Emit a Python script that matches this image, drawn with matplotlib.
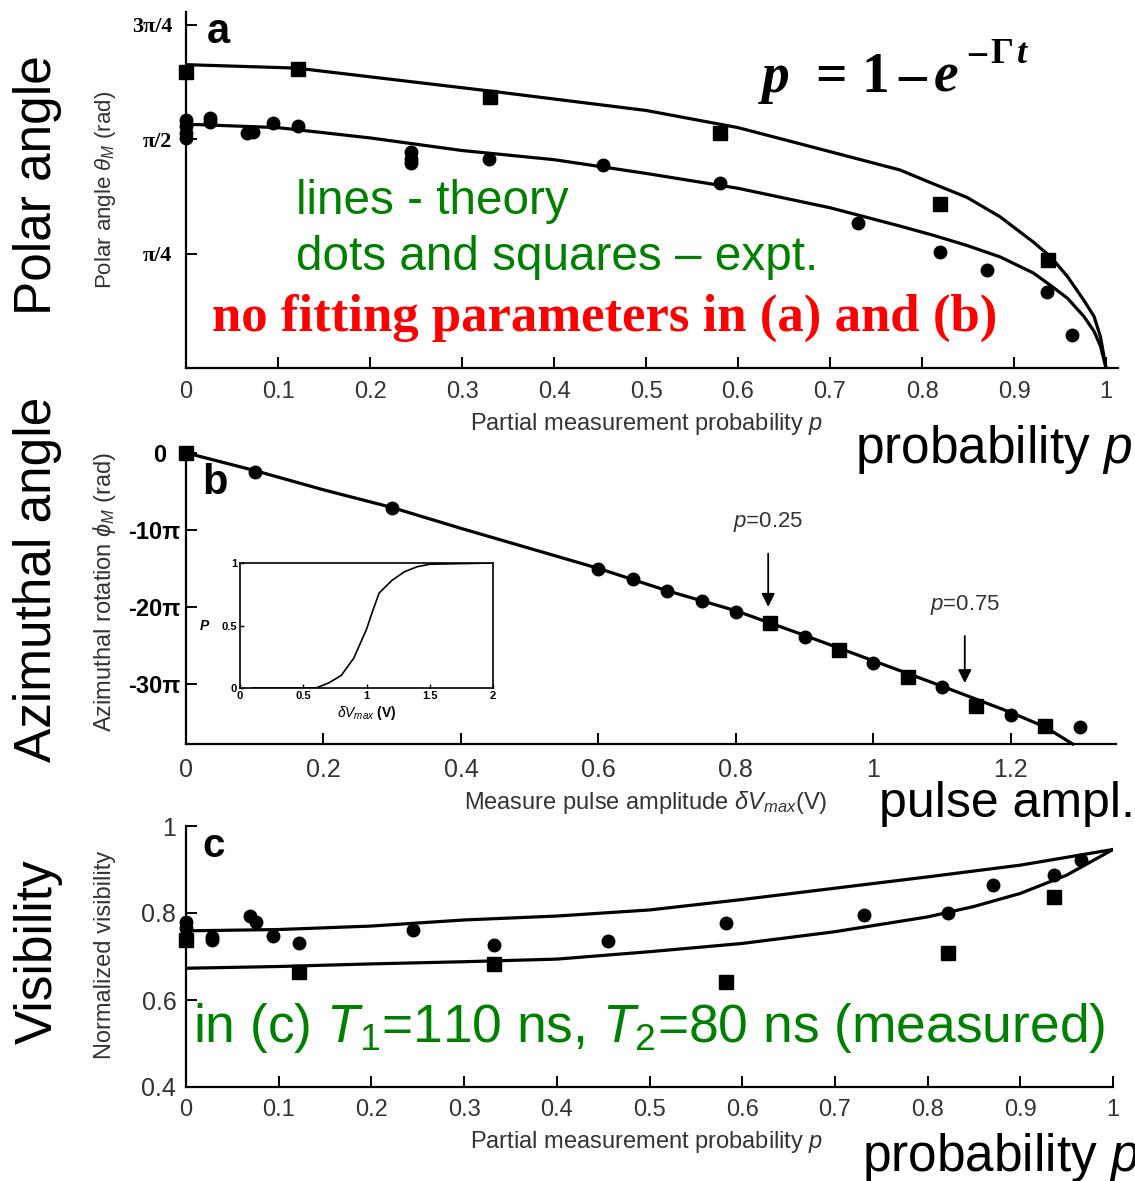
import numpy as np
from matplotlib import pyplot as plt

plt.rcParams['font.family'] = ['Liberation Sans', 'DejaVu Sans']
plt.rcParams['mathtext.fontset'] = 'custom'
plt.rcParams['mathtext.rm'] = 'Liberation Sans'
plt.rcParams['mathtext.it'] = 'Liberation Sans:italic'
plt.rcParams['mathtext.bf'] = 'Liberation Sans:bold'

# ---- panel a : polar angle (units of pi/4) ----
a_sq_p = [0, 0.122, 0.33, 0.58, 0.82, 0.937]
a_sq_v = [2.59, 2.61, 2.37, 2.05, 1.43, 0.94]
a_dot_p = [0, 0, 0, 0, 0.026, 0.026, 0.066, 0.073, 0.095, 0.122, 0.245, 0.245,
           0.245, 0.329, 0.453, 0.58, 0.73, 0.82, 0.871, 0.936, 0.963]
a_dot_v = [2.17, 2.11, 2.05, 2.01, 2.18, 2.15, 2.05, 2.06, 2.14, 2.11, 1.89, 1.83,
           1.79, 1.83, 1.77, 1.62, 1.27, 1.01, 0.86, 0.66, 0.29]
a_up_p = [0, 0.12, 0.33, 0.5, 0.6, 0.7, 0.776, 0.812, 0.849, 0.885, 0.921, 0.94,
          0.958, 0.976, 0.987, 0.994, 1.0]
a_up_v = [2.65, 2.62, 2.42, 2.25, 2.10, 1.89, 1.73, 1.61, 1.49, 1.32, 1.10, 0.97,
          0.80, 0.59, 0.45, 0.27, 0]
a_lo_p = [0, 0.1, 0.2, 0.3, 0.4, 0.5, 0.6, 0.7, 0.776, 0.812, 0.849, 0.885, 0.921,
          0.94, 0.958, 0.976, 0.987, 0.994, 1.0]
a_lo_v = [2.13, 2.10, 2.01, 1.90, 1.82, 1.70, 1.57, 1.40, 1.24, 1.16, 1.07, 0.97, 0.83,
          0.72, 0.61, 0.45, 0.32, 0.19, 0]
a_yticks = [1, 2, 3]
a_ylabels = ['\u03c0/4', '\u03c0/2', '3\u03c0/4']

# ---- panel b : azimuthal rotation (units of pi) ----
b_dot_v = [0.1, 0.3, 0.6, 0.65, 0.7, 0.75, 0.8, 0.9, 1.0, 1.1, 1.2, 1.3]
b_dot_phi = [-2.5, -7.1, -15.1, -16.4, -18.0, -19.2, -20.6, -23.9, -27.3, -30.4, -34.0, -35.6]
b_sq_v = [0, 0.85, 0.95, 1.05, 1.15, 1.25]
b_sq_phi = [0, -22.1, -25.6, -29.1, -32.9, -35.5]
b_th_v = [0, 0.1, 0.2, 0.3, 0.4, 0.5, 0.6, 0.7, 0.8, 0.9, 1.0, 1.1, 1.2, 1.25, 1.29]
b_th_phi = [0, -2.3, -4.8, -7.1, -9.8, -12.4, -15.0, -17.9, -20.5, -23.7, -27.0,
            -30.3, -33.7, -35.6, -37.8]
b_yticks = [0, -10, -20, -30]
b_ylabels = ['0  ', '-10\u03c0', '-20\u03c0', '-30\u03c0']
b_xticks = [0, 0.2, 0.4, 0.6, 0.8, 1.0, 1.2]
b_xlabels = ['0', '0.2', '0.4', '0.6', '0.8', '1', '1.2']

# inset
in_v = [0.1, 0.6, 0.7, 0.8, 0.9, 1.0, 1.05, 1.1, 1.2, 1.3, 1.4, 1.5, 2.0]
in_P = [0, 0, 0.04, 0.10, 0.24, 0.47, 0.62, 0.76, 0.86, 0.93, 0.97, 0.99, 1.0]

# ---- panel c : visibility ----
c_dot_p = [0, 0, 0.028, 0.028, 0.069, 0.076, 0.094, 0.122, 0.245, 0.332, 0.455,
           0.582, 0.731, 0.822, 0.871, 0.936, 0.965]
c_dot_v = [0.78, 0.765, 0.745, 0.738, 0.793, 0.78, 0.746, 0.730, 0.761, 0.726, 0.736,
           0.776, 0.795, 0.80, 0.864, 0.887, 0.922]
c_sq_p = [0, 0.122, 0.332, 0.582, 0.822, 0.936]
c_sq_v = [0.738, 0.665, 0.683, 0.642, 0.709, 0.837]
c_up_p = [0, 0.1, 0.2, 0.3, 0.4, 0.5, 0.6, 0.7, 0.8, 0.9, 1.0]
c_up_v = [0.759, 0.762, 0.770, 0.784, 0.793, 0.807, 0.831, 0.857, 0.883, 0.910, 0.946]
c_lo_p = [0, 0.1, 0.2, 0.3, 0.4, 0.5, 0.6, 0.7, 0.8, 0.85, 0.9, 0.95, 1.0]
c_lo_v = [0.673, 0.677, 0.683, 0.688, 0.694, 0.711, 0.730, 0.757, 0.791, 0.815,
          0.845, 0.887, 0.946]
c_yticks = [0.4, 0.6, 0.8, 1.0]
c_ylabels = ['0.4', '0.6', '0.8', '1']

p_ticks = [0, 0.1, 0.2, 0.3, 0.4, 0.5, 0.6, 0.7, 0.8, 0.9, 1.0]
p_labels = ['0', '0.1', '0.2', '0.3', '0.4', '0.5', '0.6', '0.7', '0.8', '0.9', '1']

W, H = 1135, 1181
fig = plt.figure(figsize=(W / 100, H / 100), dpi=100)


def px(x, y):
    return x / W, 1 - y / H


def box(x0, y_top, x1, y_bot):
    return [x0 / W, 1 - y_bot / H, (x1 - x0) / W, (y_bot - y_top) / H]


GREY = '#333333'


def style(ax):
    for s in ['top', 'right']:
        ax.spines[s].set_visible(False)
    for s in ['left', 'bottom']:
        ax.spines[s].set_linewidth(1.6)
    ax.tick_params(direction='in', length=8, width=1.4, colors='k', labelcolor=GREY)


LW = 2.3
MS_SQ = 10
MS_DOT = 9

# ---------- a ----------
ax = fig.add_axes(box(186, 12, 1118, 368))
style(ax)
ax.plot(a_up_p, a_up_v, 'k-', lw=LW)
ax.plot(a_lo_p, a_lo_v, 'k-', lw=LW)
ax.plot(a_sq_p, a_sq_v, 'ks', ms=MS_SQ, clip_on=False)
ax.plot(a_dot_p, a_dot_v, 'ko', ms=MS_DOT, clip_on=False)
ax.set_xlim(0, 1.013)
ax.set_ylim(0, 3.11)
ax.set_xticks(p_ticks)
ax.set_xticklabels(p_labels, fontsize=17)
ax.set_yticks(a_yticks)
ax.set_yticklabels(a_ylabels, fontsize=16, fontweight='bold', family='Liberation Serif',
                   color='k')
ax.tick_params(axis='x', pad=9)
ax.tick_params(axis='y', pad=10)

# ---------- b ----------
bx = fig.add_axes(box(186, 449, 1116, 744))
style(bx)
bx.plot(b_th_v, b_th_phi, 'k-', lw=LW, clip_on=False)
bx.plot(b_sq_v, b_sq_phi, 'ks', ms=MS_SQ, clip_on=False)
bx.plot(b_dot_v, b_dot_phi, 'ko', ms=MS_DOT, clip_on=False)
bx.set_xlim(0, 1.353)
bx.set_ylim(-37.8, 0.5)
bx.set_xticks(b_xticks)
bx.set_xticklabels(b_xlabels, fontsize=18)
bx.set_yticks(b_yticks)
bx.set_yticklabels(b_ylabels, fontsize=17, fontweight='bold', color='k')
bx.tick_params(axis='x', pad=10)
bx.tick_params(axis='y', pad=4)
bx.annotate(r'$p$=0.25', xy=(0.847, -20.0), xytext=(0.847, -9.0), ha='center', va='center',
            fontsize=16, color=GREY,
            arrowprops=dict(arrowstyle='-|>', color='k', lw=1.3, shrinkA=12, shrinkB=0,
                            mutation_scale=20))
bx.annotate(r'$p$=0.75', xy=(1.133, -29.9), xytext=(1.133, -19.7), ha='center', va='center',
            fontsize=16, color=GREY,
            arrowprops=dict(arrowstyle='-|>', color='k', lw=1.3, shrinkA=12, shrinkB=0,
                            mutation_scale=20))

# inset
ix = fig.add_axes(box(240, 563, 493, 688))
ix.plot(in_v, in_P, 'k-', lw=1.2)
ix.set_xlim(0, 2)
ix.set_ylim(0, 1)
ix.set_xticks([0, 0.5, 1, 1.5, 2])
ix.set_xticklabels(['0', '0.5', '1', '1.5', '2'], fontsize=8, fontweight='bold')
ix.set_yticks([0, 0.5, 1])
ix.set_yticklabels(['0', '0.5', '1'], fontsize=8, fontweight='bold')
ix.tick_params(direction='in', length=3, width=1, pad=2)
for s in ix.spines.values():
    s.set_linewidth(1.2)
ix.set_xlabel(r'$\delta V_{max}$ (V)', fontsize=10, fontweight='bold', labelpad=2)
ix.text(-0.14, 0.5, 'P', transform=ix.transAxes, fontsize=10, fontweight='bold',
        fontstyle='italic', ha='center', va='center')

# ---------- c ----------
cx = fig.add_axes(box(186, 826, 1113, 1087))
style(cx)
cx.plot(c_up_p, c_up_v, 'k-', lw=LW)
cx.plot(c_lo_p, c_lo_v, 'k-', lw=LW)
cx.plot(c_sq_p, c_sq_v, 'ks', ms=MS_SQ, clip_on=False)
cx.plot(c_dot_p, c_dot_v, 'ko', ms=MS_DOT, clip_on=False)
cx.set_xlim(0, 1)
cx.set_ylim(0.4, 1.0)
cx.set_xticks(p_ticks)
cx.set_xticklabels(p_labels, fontsize=17)
cx.set_yticks(c_yticks)
cx.set_yticklabels(c_ylabels, fontsize=18)
cx.tick_params(axis='x', pad=9)
cx.tick_params(axis='y', pad=7)

# ---------- small axis labels ----------
fig.text(*px(105, 190), r'Polar angle $\theta_M$ (rad)', rotation=90, ha='center', va='center',
         fontsize=16, color=GREY)
fig.text(*px(105, 592), r'Azimuthal rotation $\phi_M$ (rad)', rotation=90, ha='center',
         va='center', fontsize=17, color=GREY)
fig.text(*px(105, 955), 'Normalized visibility', rotation=90, ha='center', va='center',
         fontsize=17, color=GREY)
fig.text(*px(647, 424), r'Partial measurement probability $p$', ha='center', va='center',
         fontsize=17, color=GREY)
fig.text(*px(646, 802), r'Measure pulse amplitude $\delta V_{max}$(V)', ha='center',
         va='center', fontsize=17, color=GREY)
fig.text(*px(647, 1142), r'Partial measurement probability $p$', ha='center', va='center',
         fontsize=17, color=GREY)

# panel letters
fig.text(*px(218, 32), 'a', ha='center', va='center', fontsize=30, fontweight='bold')
fig.text(*px(215, 483), 'b', ha='center', va='center', fontsize=30, fontweight='bold')
fig.text(*px(214, 846), 'c', ha='center', va='center', fontsize=29, fontweight='bold')

# big labels
fig.text(*px(38, 185), 'Polar angle', rotation=90, ha='center', va='center', fontsize=37)
fig.text(*px(38, 579), 'Azimuthal angle', rotation=90, ha='center', va='center', fontsize=37)
fig.text(*px(38, 952), 'Visibility', rotation=90, ha='center', va='center', fontsize=37)
fig.text(*px(1132, 450), r'probability $p$', ha='right', va='center', fontsize=37)
fig.text(*px(1135, 804), 'pulse ampl.', ha='right', va='center', fontsize=36)
fig.text(*px(862, 1158), r'probability $p$', ha='left', va='center', fontsize=37)

# notes
GREEN = '#008000'
fig.text(*px(296, 202), 'lines - theory', ha='left', va='center', fontsize=34.3, color=GREEN)
fig.text(*px(296, 258), 'dots and squares \u2013 expt.', ha='left', va='center',
         fontsize=34.3, color=GREEN)
fig.text(*px(605, 318), 'no fitting parameters in (a) and (b)', ha='center', va='center',
         fontsize=38, color='red', fontweight='bold', family='Liberation Serif')
fig.text(*px(193, 1028), r'in (c) $T_1$=110 ns, $T_2$=80 ns (measured)', ha='left',
         va='center', fontsize=38.4, color=GREEN)

# formula p = 1 - e^{-Gamma t}
SER = 'Liberation Serif'
BASE, SUP = 92, 63
fig.text(*px(762, BASE), 'p', fontsize=40, fontweight='bold', fontstyle='italic', family=SER,
         va='baseline')
fig.text(*px(815, BASE), '=', fontsize=40, fontweight='bold', family=SER, va='baseline')
fig.text(*px(862, BASE), '1', fontsize=40, fontweight='bold', family=SER, va='baseline')
fig.text(*px(898, BASE), '\u2013', fontsize=40, fontweight='bold', family=SER, va='baseline')
fig.text(*px(934, BASE), 'e', fontsize=40, fontweight='bold', fontstyle='italic', family=SER,
         va='baseline')
fig.text(*px(968, SUP), '\u2013', fontsize=26, fontweight='bold', family=SER, va='baseline')
fig.text(*px(990, SUP), '\u0393', fontsize=26, fontweight='bold', family=SER, va='baseline')
fig.text(*px(1017, SUP), 't', fontsize=26, fontweight='bold', fontstyle='italic', family=SER,
         va='baseline')

plt.savefig('out.png', dpi=100)
